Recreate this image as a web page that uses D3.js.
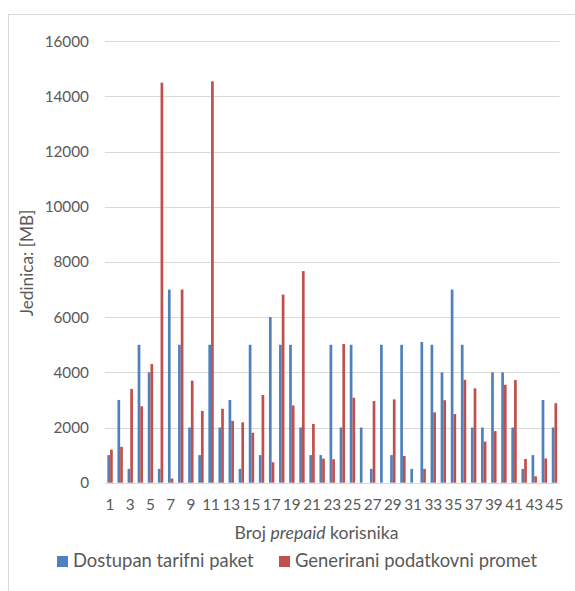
<!DOCTYPE html>
<html><head><meta charset="utf-8">
<script src="https://cdn.jsdelivr.net/npm/d3@7"></script>
<style>
html,body{margin:0;padding:0;background:#fff;}
svg text{font-family:Lato,"Open Sans",sans-serif;fill:#595959;}
</style></head>
<body><svg id="c" width="575" height="591"></svg>
<script>
const categories = d3.range(1, 46);
const seriesNames = ["Dostupan tarifni paket", "Generirani podatkovni promet"];
const dostupan = [1000,3000,500,5000,4000,500,7000,5000,2000,1000,5000,2000,3000,500,5000,
  1000,6000,5000,5000,2000,1000,1000,5000,2000,5000,2000,500,5000,1000,5000,
  500,5100,5000,4000,7000,5000,2000,2000,4000,4000,2000,500,1000,3000,2000];
const generirani = [1200,1300,3400,2770,4300,14500,150,7000,3700,2600,14550,2680,2240,2190,1810,
  3180,740,6820,2800,7670,2130,870,850,5030,3080,0,2960,0,3020,970,
  0,500,2550,2990,2490,3730,3420,1490,1870,3550,3720,860,230,880,2880];
const yTicks = [0,2000,4000,6000,8000,10000,12000,14000,16000];
const xTickLabels = categories.filter(d => d % 2 === 1);
const colors = ["#4F81BD", "#C0504D"];

(function(){
const svg = d3.select("#c");
svg.append("rect").attr("x",8.5).attr("y",14.5).attr("width",700).attr("height",700)
  .attr("fill","none").attr("stroke","#d9d9d9").attr("stroke-width",1);

const pL = 105, pR = 559.5, pT = 41.3, pB = 482.7;
const x = d3.scaleBand().domain(categories).range([pL, pR]).paddingInner(0).paddingOuter(0);
const x1 = d3.scaleBand().domain(seriesNames).range([0, x.bandwidth()]).paddingInner(0).paddingOuter(0.87);
const y = d3.scaleLinear().domain([0,16000]).range([pB, pT]);

svg.append("g").selectAll("line").data(yTicks).join("line")
  .attr("x1", pL).attr("x2", pR)
  .attr("y1", d => Math.round(y(d)) + 0.5).attr("y2", d => Math.round(y(d)) + 0.5)
  .attr("stroke", "#d9d9d9").attr("stroke-width", 1);

const yAxis = d3.axisLeft(y).tickValues(yTicks).tickSize(0).tickPadding(0).tickFormat(d3.format("d"));
const ya = svg.append("g").attr("transform", `translate(89,0)`).call(yAxis);
ya.select(".domain").remove();
ya.selectAll("text").attr("font-size", 15.3).attr("fill", "#595959").attr("font-family","Lato,'Open Sans',sans-serif");

const data = categories.map((c, i) => ({c, vals: [dostupan[i], generirani[i]]}));
const g = svg.append("g");
data.forEach(d => {
  d.vals.forEach((v, j) => {
    g.append("rect")
      .attr("x", x(d.c) + x1(seriesNames[j]))
      .attr("width", x1.bandwidth())
      .attr("y", y(v))
      .attr("height", y(0) - y(v))
      .attr("fill", colors[j]);
  });
});

const xAxis = d3.axisBottom(x).tickValues(xTickLabels).tickSize(0).tickPadding(0);
const xa = svg.append("g").attr("transform", `translate(0,${pB})`).call(xAxis);
xa.select(".domain").remove();
xa.selectAll("text").attr("font-size", 15.3).attr("fill", "#595959").attr("dy", null)
  .attr("y", 27.5).attr("font-family","Lato,'Open Sans',sans-serif");
svg.append("line").attr("x1", pL).attr("x2", pR)
  .attr("y1", Math.round(pB)+0.5).attr("y2", Math.round(pB)+0.5)
  .attr("stroke", "#d9d9d9").attr("stroke-width", 1);

const xt = svg.append("text").attr("x", 316.5).attr("y", 539).attr("text-anchor", "middle").attr("font-size", 17.6);
xt.append("tspan").text("Broj ");
xt.append("tspan").attr("font-style", "italic").text("prepaid");
xt.append("tspan").text(" korisnika");

svg.append("text").attr("transform", "translate(33,263) rotate(-90)")
  .attr("text-anchor", "middle").attr("font-size", 17.2).text("Jedinica: [MB]");

const legendX = [57, 279];
seriesNames.forEach((s, i) => {
  svg.append("rect").attr("x", legendX[i]).attr("y", 556).attr("width", 11).attr("height", 11).attr("fill", colors[i]);
  svg.append("text").attr("x", legendX[i] + 16).attr("y", 567).attr("font-size", 18.4).text(s);
});
})();
</script></body></html>
